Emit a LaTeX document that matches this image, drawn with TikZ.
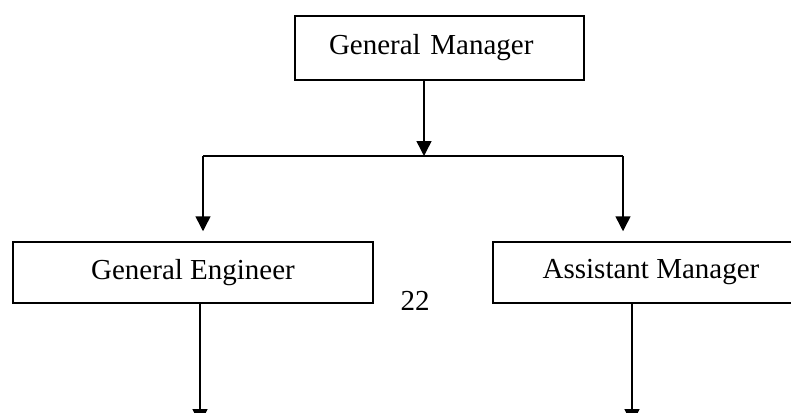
\documentclass[tikz,border=0pt]{standalone}
\usepackage{fontspec}
\setmainfont{Liberation Serif}
\usetikzlibrary{arrows.meta}
\begin{document}
\begin{tikzpicture}[x=1pt,y=-1pt,
  box/.style={draw, line width=1.5pt, inner sep=0pt, font=\fontsize{29}{34}\selectfont},
  lbl/.style={inner sep=0pt, font=\fontsize{29}{34}\selectfont},
  conn/.style={line width=1.5pt},
  arr/.style={line width=1.5pt, -{Triangle[width=15pt,length=15pt]}}]
\clip (0,0) rectangle (791,412);
\fill[white] (0,0) rectangle (791,412);
% boxes
\node[box, minimum height=64pt, text width=289pt, align=left] (gm) at (439.5,48)
  {\hspace*{34pt}General Manager};
\node[box, minimum width=360pt, minimum height=61pt] (ge) at (193,272.5) {General Engineer};
\node[box, minimum width=316pt, minimum height=61pt] (am) at (651,272.5) {Assistant Manager};
\node[lbl] (num) at (415,301) {22};
% junctions
\coordinate (j) at (424,156);
\coordinate (jl) at (203,156);
\coordinate (jr) at (623,156);
\coordinate (el) at (200,424);
\coordinate (er) at (632,424);
% connectors
\draw[arr] (j |- gm.south) -- (j);
\draw[conn] (jl) -- (jr);
\draw[arr, shorten >=10pt] (jl) -- (jl |- ge.north);
\draw[arr, shorten >=10pt] (jr) -- (jr |- am.north);
\draw[arr] (el |- ge.south) -- (el);
\draw[arr] (er |- am.south) -- (er);
\end{tikzpicture}
\end{document}
